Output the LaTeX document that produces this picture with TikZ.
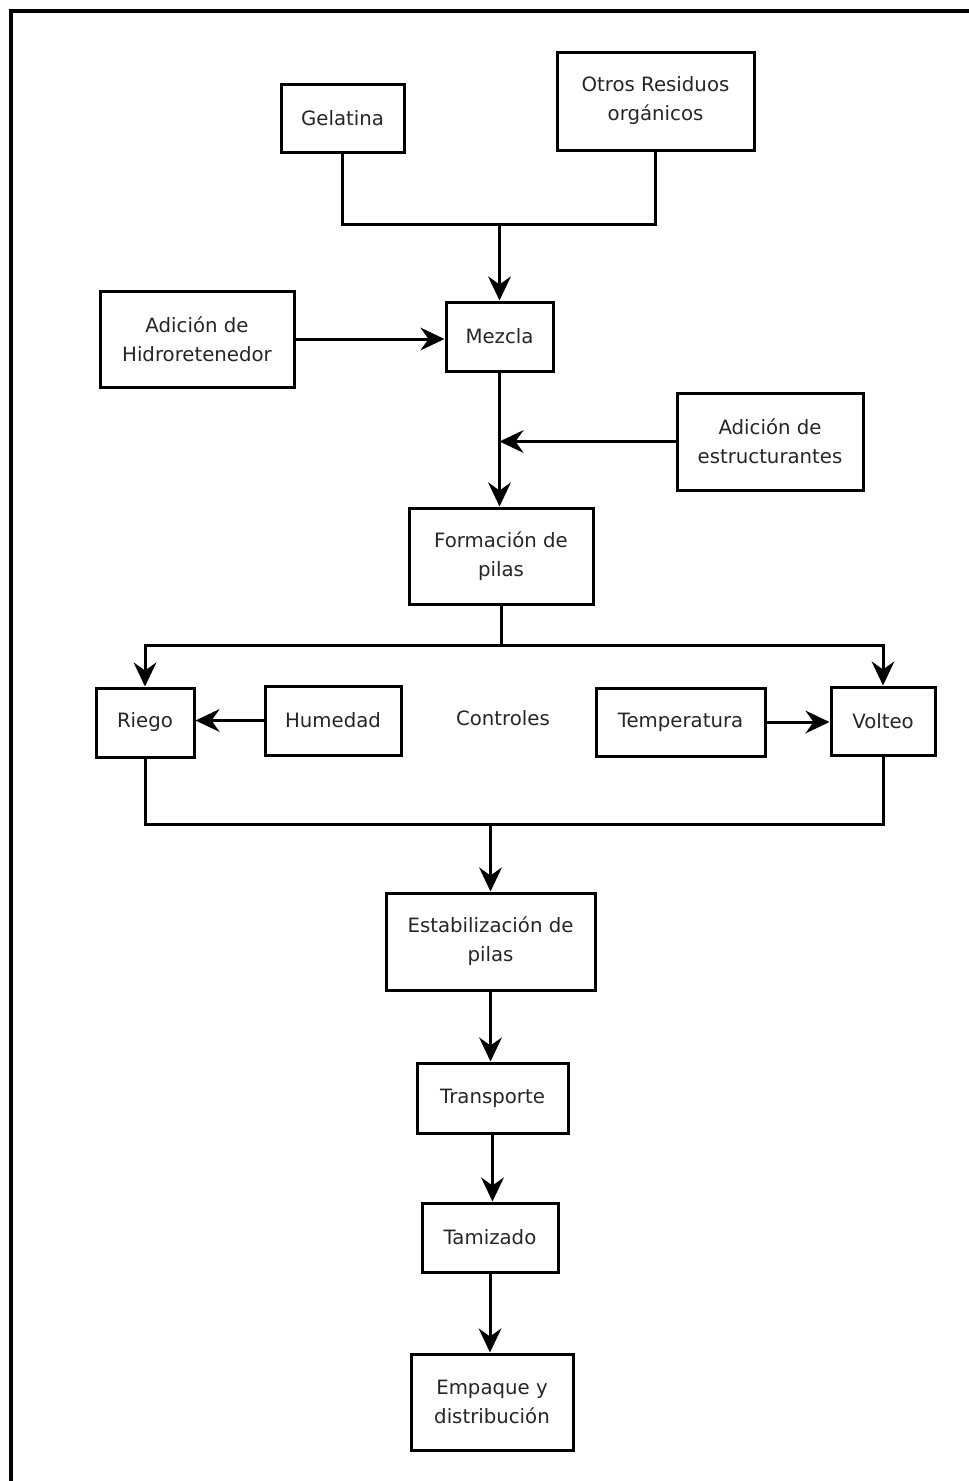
\documentclass[tikz,border=0pt]{standalone}
\usepackage{fontspec}
\setmainfont{DejaVu Sans}
\usetikzlibrary{arrows.meta}
\begin{document}
\begin{tikzpicture}[x=0.75pt,y=-0.75pt,
  box/.style={draw,line width=2.25pt,align=center,inner sep=0pt,font=\fontsize{14.8}{21.75}\selectfont,text=black!85},
  link/.style={line width=2.25pt},
  arr/.style={line width=2.25pt,-{Stealth[length=18pt,width=17pt,inset=6pt]}}]
\useasboundingbox (0,0) rectangle (969,1481);
\fill[white] (0,0) rectangle (969,1481);
\draw[line width=3pt] (10.5,1481) -- (10.5,10.5) -- (969,10.5);
\node[box,minimum width=92.25pt,minimum height=51pt] (gel) at (342.5,118) {Gelatina};
\node[box,minimum width=147.75pt,minimum height=73.5pt] (otr) at (655.5,101) {Otros Residuos\\orgánicos};
\node[box,minimum width=80.25pt,minimum height=51.75pt] (mez) at (499.5,336.5) {Mezcla};
\node[box,minimum width=145.5pt,minimum height=72pt] (hid) at (197,339) {Adición de\\Hidroretenedor};
\node[box,minimum width=139.5pt,minimum height=72.75pt] (est) at (770,441.5) {Adición de\\estructurantes};
\node[box,minimum width=138pt,minimum height=72pt] (for) at (501,556) {Formación de\\pilas};
\node[box,minimum width=73.5pt,minimum height=51.75pt] (rie) at (145,722.5) {Riego};
\node[box,minimum width=102pt,minimum height=51.75pt] (hum) at (333,720.5) {Humedad};
\node[font=\fontsize{14.8}{21.75}\selectfont,text=black!85] (con) at (503,718) {Controles};
\node[box,minimum width=126.75pt,minimum height=51pt] (tem) at (680.5,722) {Temperatura};
\node[box,minimum width=78pt,minimum height=51pt] (vol) at (883,721) {Volteo};
\node[box,minimum width=156.75pt,minimum height=72.75pt] (sta) at (490.5,941.5) {Estabilización de\\pilas};
\node[box,minimum width=113.25pt,minimum height=52.5pt] (tra) at (492.5,1098) {Transporte};
\node[box,minimum width=102pt,minimum height=51.75pt] (tam) at (490,1237.5) {Tamizado};
\node[box,minimum width=121.5pt,minimum height=72pt] (emp) at (492,1402) {Empaque y\\distribución};
\coordinate (j1) at (499.5,224);
\coordinate (j2) at (501,645);
\coordinate (j3) at (490.5,824);
\draw[link] (gel.south) |- (otr.south |- j1) -- (otr.south);
\draw[arr] (j1) -- (mez.north);
\draw[arr] (hid.east) -- (hid.east -| mez.west);
\draw[arr] (mez.south) -- (mez.south |- for.north);
\draw[arr] (est.west) -- (est.west -| mez.south);
\draw[link] (for.south) -- (j2);
\draw[arr] (j2) -| (rie.north);
\draw[arr] (j2) -| (vol.north);
\draw[arr] (hum.west) -- (hum.west -| rie.east);
\draw[arr] (tem.east) -- (tem.east -| vol.west);
\draw[link] (rie.south) |- (j3) -| (vol.south);
\draw[arr] (j3) -- (sta.north);
\draw[arr] (sta.south) -- (sta.south |- tra.north);
\draw[arr] (tra.south) -- (tra.south |- tam.north);
\draw[arr] (tam.south) -- (tam.south |- emp.north);
\end{tikzpicture}
\end{document}
